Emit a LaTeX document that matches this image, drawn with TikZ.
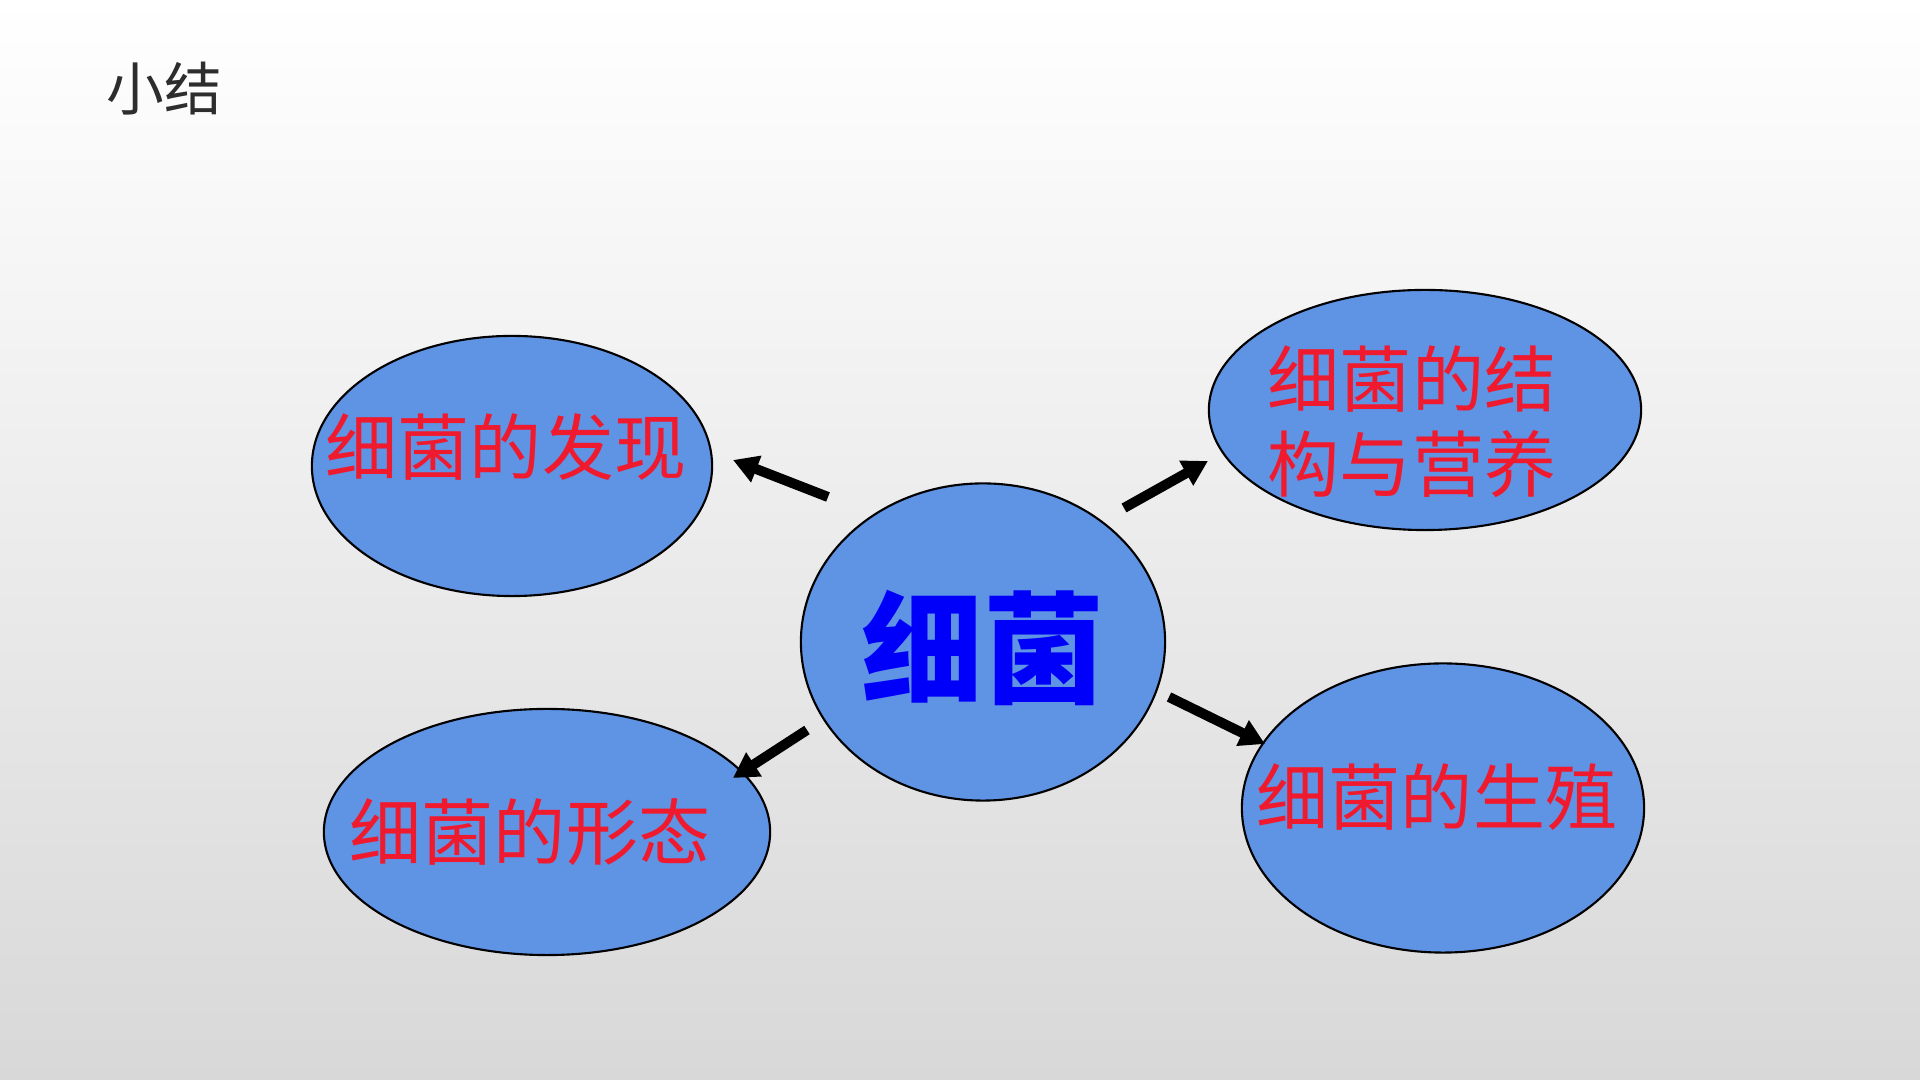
\documentclass[tikz,border=0pt]{standalone}
\usepackage{fontspec}
\newfontfamily\cjk{Noto Sans CJK SC}
\usetikzlibrary{shapes.geometric,arrows.meta}
\definecolor{ellfill}{RGB}{95,147,228}
\definecolor{txtred}{RGB}{240,26,46}
\definecolor{txtblue}{RGB}{0,0,250}
\definecolor{titlegray}{RGB}{45,45,45}
\definecolor{bgbottom}{RGB}{216,216,216}
\begin{document}
\begin{tikzpicture}[x=0.01cm,y=-0.01cm,
  ell/.style={ellipse,draw=black,line width=0.6pt,fill=ellfill,inner sep=0pt},
  lbl/.style={inner sep=0pt,text=txtred,font=\cjk\fontsize{20.5pt}{24.2pt}\selectfont,align=center},
  arr/.style={line width=0.1cm,-{Triangle[length=0.25cm,width=0.27cm]},black}
]
\useasboundingbox (0,0) rectangle (1920,1080);
\shade[top color=white,bottom color=bgbottom] (0,0) rectangle (1920,1080);

\node[anchor=west,inner sep=0pt,text=titlegray,font=\cjk\fontsize{16.4pt}{18pt}\selectfont] (title) at (106,89) {小结};

% ellipses
\node[ell,minimum width=3.64cm,minimum height=3.17cm] (c) at (983,642) {};
\node[ell,minimum width=4.00cm,minimum height=2.60cm] (e1) at (512,466) {};
\node[ell,minimum width=4.32cm,minimum height=2.40cm] (e2) at (1425,410) {};
\node[ell,minimum width=4.46cm,minimum height=2.46cm] (e3) at (547,832) {};
\node[ell,minimum width=4.02cm,minimum height=2.89cm] (e4) at (1443,808) {};

% texts
\node[inner sep=0pt,text=txtblue,font=\cjk\bfseries\fontsize{34.5pt}{36pt}\selectfont] (ct) at (983,648) {细菌};
\node[lbl] (t1) at (506,447) {细菌的发现};
\node[lbl] (t2) at (1412,422) {细菌的结\\构与营养};
\node[lbl] (t3) at (530,832) {细菌的形态};
\node[lbl] (t4) at (1437,797) {细菌的生殖};

% arrow ends
\coordinate (a1s) at (828,497); \coordinate (a1e) at (733,460);
\coordinate (a2s) at (1124,508); \coordinate (a2e) at (1208,461);
\coordinate (a3s) at (1169,697); \coordinate (a3e) at (1265,744);
\coordinate (a4s) at (807,730); \coordinate (a4e) at (733,778);

\draw[arr] (a1s) -- (a1e);
\draw[arr] (a2s) -- (a2e);
\draw[arr] (a3s) -- (a3e);
\draw[arr] (a4s) -- (a4e);
\end{tikzpicture}
\end{document}
